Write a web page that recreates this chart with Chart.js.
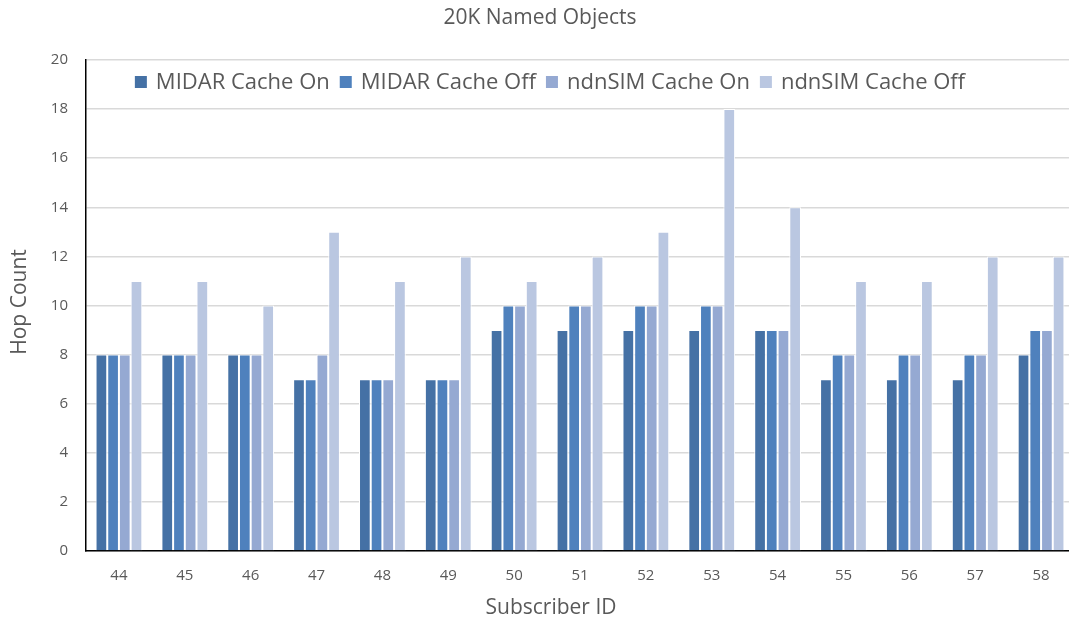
<!DOCTYPE html>
<html>
<head>
<meta charset="utf-8">
<title>20K Named Objects</title>
<script src="https://cdn.jsdelivr.net/npm/chart.js@4.4.1/dist/chart.umd.min.js"></script>
<style>
  html, body { margin: 0; padding: 0; background: #ffffff; overflow: hidden; }
  #wrap { position: relative; width: 1074px; height: 624px; }
</style>
</head>
<body>
<div id="wrap"><canvas id="chart" width="1074" height="624"></canvas></div>
<script>
// Subscriber IDs along the x axis
const subscribers = ['44', '45', '46', '47', '48', '49', '50', '51', '52', '53', '54', '55', '56', '57', '58'];

// Hop counts per subscriber
const midarCacheOn   = [8, 8, 8, 7, 7, 7, 9, 9, 9, 9, 9, 7, 7, 7, 8];
const midarCacheOff  = [8, 8, 8, 7, 7, 7, 10, 10, 10, 10, 9, 8, 8, 8, 9];
const ndnsimCacheOn  = [8, 8, 8, 8, 7, 7, 10, 10, 10, 10, 9, 8, 8, 8, 9];
const ndnsimCacheOff = [11, 11, 10, 13, 11, 12, 11, 12, 13, 18, 14, 11, 11, 12, 12];

const seriesNames = ['MIDAR Cache On', 'MIDAR Cache Off', 'ndnSIM Cache On', 'ndnSIM Cache Off'];
const seriesColors = ['#4571a5', '#4f81bd', '#95a9d2', '#bac7e1'];

const FONT = '"Open Sans", "Noto Sans", sans-serif';
const TEXT = '#595959';

function makeSet(i, values) {
  return {
    label: seriesNames[i],
    data: values,
    backgroundColor: seriesColors[i],
    borderColor: '#ffffff',
    borderWidth: 1,
    barPercentage: 1.0,
    categoryPercentage: 0.71
  };
}

// Title, in-plot legend and axis titles drawn on the canvas
const decorations = {
  id: 'decorations',
  afterDraw(chart) {
    const ctx = chart.ctx;
    const area = chart.chartArea;
    ctx.save();
    ctx.fillStyle = TEXT;
    ctx.textBaseline = 'middle';

    // chart title
    ctx.font = '21px ' + FONT;
    ctx.textAlign = 'center';
    ctx.fillText('20K Named Objects', 540, 18);

    // x axis title
    ctx.font = '21px ' + FONT;
    ctx.fillText('Subscriber ID', 551, 608);

    // y axis title
    ctx.save();
    ctx.translate(20, 302);
    ctx.rotate(-Math.PI / 2);
    ctx.fillText('Hop Count', 0, 0);
    ctx.restore();

    // legend inside the plot area
    ctx.font = '22px ' + FONT;
    ctx.textAlign = 'left';
    const box = 12, gapBox = 9, gapItem = 10;
    const items = chart.data.datasets.map(d => ({
      label: d.label,
      color: d.backgroundColor,
      w: box + gapBox + ctx.measureText(d.label).width
    }));
    const total = items.reduce((s, it) => s + it.w, 0) + gapItem * (items.length - 1);
    let x = 550 - total / 2;
    const y = 82;
    items.forEach(it => {
      ctx.fillStyle = it.color;
      ctx.fillRect(x, y - box / 2, box, box);
      ctx.fillStyle = TEXT;
      ctx.fillText(it.label, x + box + gapBox, y + 1);
      x += it.w + gapItem;
    });
    ctx.restore();
  }
};

new Chart(document.getElementById('chart'), {
  type: 'bar',
  data: {
    labels: subscribers,
    datasets: [
      makeSet(0, midarCacheOn),
      makeSet(1, midarCacheOff),
      makeSet(2, ndnsimCacheOn),
      makeSet(3, ndnsimCacheOff)
    ]
  },
  options: {
    responsive: false,
    animation: false,
    layout: { padding: { top: 60, left: 0, right: 0, bottom: 0 } },
    plugins: {
      legend: { display: false },
      title: { display: false },
      tooltip: { enabled: false }
    },
    scales: {
      x: {
        grid: { display: false, drawTicks: false },
        border: { display: true, color: '#000000', width: 1.5 },
        ticks: { color: TEXT, font: { family: FONT, size: 15 }, padding: 16 },
        afterFit(scale) { scale.height = 73; }
      },
      y: {
        min: 0,
        max: 20,
        ticks: { stepSize: 2, color: TEXT, font: { family: FONT, size: 15 }, padding: 18 },
        grid: { color: '#d9d9d9', lineWidth: 1.5, drawTicks: false },
        border: { display: true, color: '#000000', width: 1.5 },
        afterFit(scale) { scale.width = 86; }
      }
    }
  },
  plugins: [decorations]
});
</script>
</body>
</html>
